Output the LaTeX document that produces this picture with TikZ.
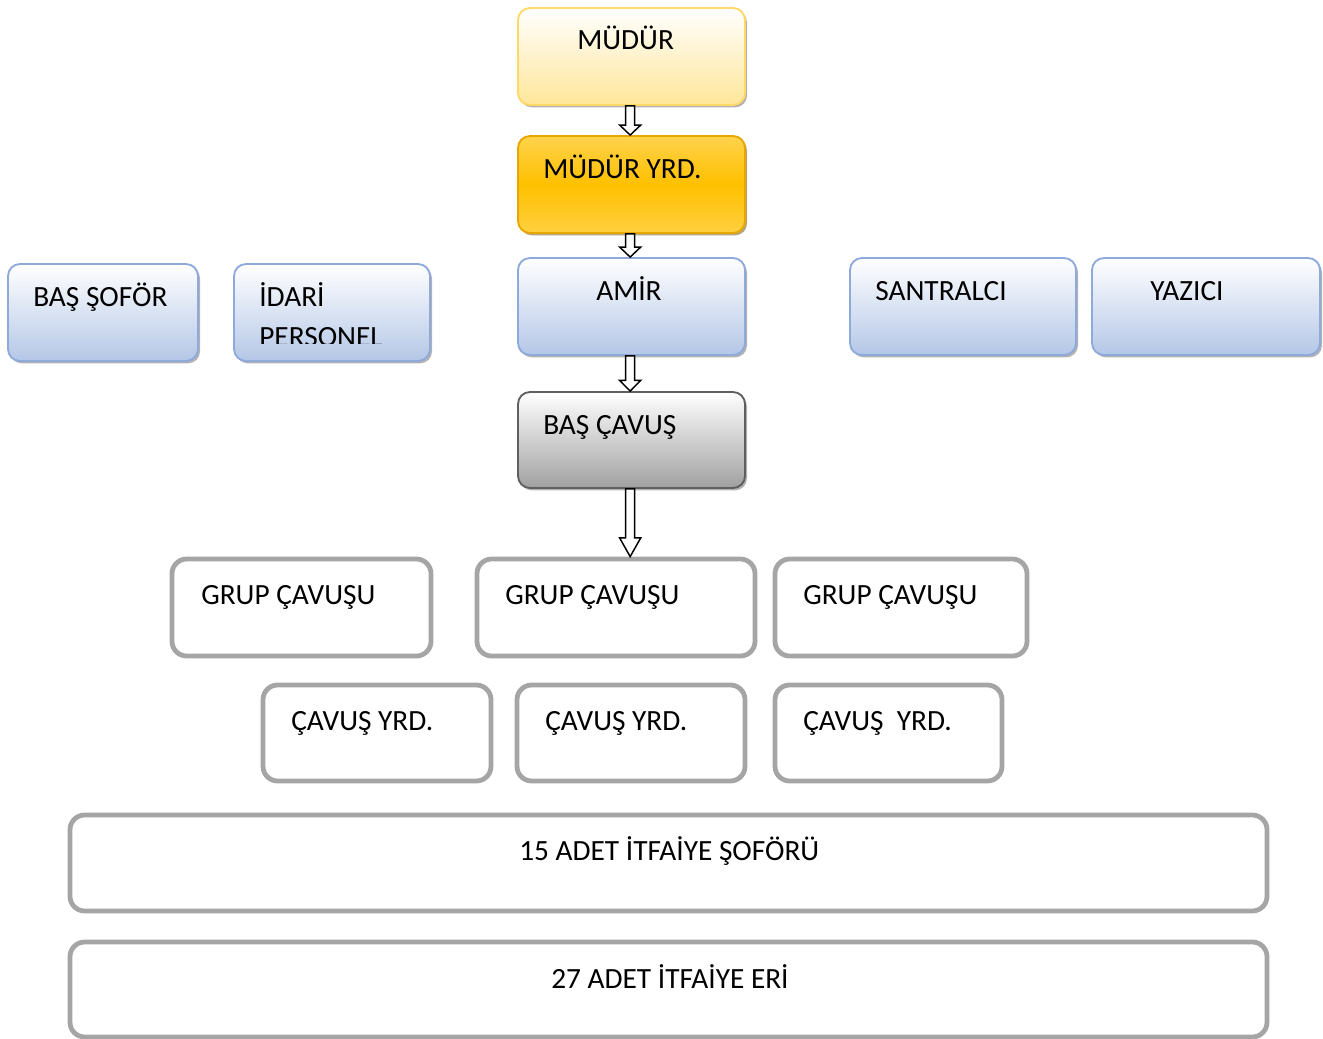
\documentclass[tikz,border=0pt]{standalone}
\usepackage{fontspec}
\setmainfont{Carlito}
\usepackage{tikz}
\usetikzlibrary{fit,calc,shadows}

\definecolor{mudurline}{RGB}{255,217,102}
\definecolor{mudurfill}{RGB}{255,230,153}
\definecolor{yrdline}{RGB}{232,166,0}
\definecolor{yrdfill}{RGB}{255,192,0}
\definecolor{amirline}{RGB}{142,170,219}
\definecolor{amirfill}{RGB}{180,199,231}
\definecolor{cavusline}{RGB}{95,95,95}
\definecolor{cavusfill}{RGB}{160,160,160}
\definecolor{boxgray}{RGB}{165,165,165}

% hollow block arrow from one box down to the next (#3 = head length)
\newcommand{\blockarrow}[3]{%
  \draw[fill=white,line width=1.1pt] let \p1=([xshift=-1pt]#1.south), \p2=(#2.north) in
    (\x1-3.4pt,\y1) -- (\x1-3.4pt,\y2+#3) -- (\x1-7.9pt,\y2+#3) -- (\x1,\y2)
    -- (\x1+7.9pt,\y2+#3) -- (\x1+3.4pt,\y2+#3) -- (\x1+3.4pt,\y1) -- cycle;}

\begin{document}
\begin{tikzpicture}[x=0.75pt,y=-0.75pt,
    shadowed/.style={drop shadow={shadow xshift=1.5pt,shadow yshift=-1.8pt,opacity=.5,fill=#1}},
    softbox/.style={inner sep=0pt,rounded corners=9pt,line width=1.4pt},
    yellowbox/.style={softbox,shadowed=black!60,draw=mudurline,top color=white,bottom color=mudurfill},
    goldbox/.style={softbox,shadowed=yrdline!45!black,draw=yrdline,top color=yrdfill!70!white,bottom color=yrdfill!75!white,middle color=yrdfill},
    bluebox/.style={softbox,shadowed=black!60,draw=amirline,top color=white,bottom color=amirfill},
    greybox/.style={softbox,shadowed=black!60,draw=cavusline,top color=white,bottom color=cavusfill},
    plainbox/.style={inner sep=0pt,rounded corners=11pt,line width=3.6pt,draw=boxgray,fill=white},
    lbl/.style={anchor=base west,inner sep=0pt,font=\fontsize{22}{26}\selectfont}]
  \useasboundingbox (0,0) rectangle (1323,1038);

  % chain of command
  \node[yellowbox,fit={(518,8) (745,105)}] (mudur) {};
  \node[goldbox,fit={(518,136) (745,233)}] (mudyrd) {};
  \node[bluebox,fit={(518,258) (745,355)}] (amir) {};
  \node[greybox,fit={(518,392) (745,488)}] (bascavus) {};
  \node[lbl] at (577,50) {MÜDÜR};
  \node[lbl] at (543,178) {MÜDÜR YRD.};
  \node[lbl] at (596,300) {AMİR};
  \node[lbl] at (543,434) {BAŞ ÇAVUŞ};

  % staff at the sides
  \node[bluebox,fit={(8,264) (198,361)}] (bassofor) {};
  \node[bluebox,fit={(234,264) (430,361)}] (idari) {};
  \node[bluebox,fit={(850,258) (1076,355)}] (santral) {};
  \node[bluebox,fit={(1092,258) (1320,355)}] (yazici) {};
  \node[lbl] at (33,306) {BAŞ ŞOFÖR};
  \node[lbl] at (259,306) {İDARİ};
  \begin{scope}
    \clip (240,320) rectangle (425,343);
    \node[lbl] at (259,346) {PERSONEL};
  \end{scope}
  \node[lbl] at (875,300) {SANTRALCI};
  \node[lbl] at (1150,300) {YAZICI};

  % groups
  \node[plainbox,fit={(172,559) (431,656)}] (grup1) {};
  \node[plainbox,fit={(477,559) (755,656)}] (grup2) {};
  \node[plainbox,fit={(775,559) (1027,656)}] (grup3) {};
  \node[lbl] at (201,604) {GRUP ÇAVUŞU};
  \node[lbl] at (505,604) {GRUP ÇAVUŞU};
  \node[lbl] at (803,604) {GRUP ÇAVUŞU};

  \node[plainbox,fit={(263,685) (491,781)}] (yrd1) {};
  \node[plainbox,fit={(517,685) (745,781)}] (yrd2) {};
  \node[plainbox,fit={(775,685) (1002,781)}] (yrd3) {};
  \node[lbl] at (291,730) {ÇAVUŞ YRD.};
  \node[lbl] at (545,730) {ÇAVUŞ YRD.};
  \node[lbl] at (803,730) {ÇAVUŞ~~YRD.};

  \node[plainbox,fit={(70,815) (1267,911)}] (sofor) {};
  \node[plainbox,fit={(70,942) (1267,1037)}] (eri) {};
  \node[lbl] at (519,860) {15 ADET İTFAİYE ŞOFÖRÜ};
  \node[lbl] at (551,988) {27 ADET İTFAİYE ERİ};

  \blockarrow{mudur}{mudyrd}{7.5pt}
  \blockarrow{mudyrd}{amir}{7.5pt}
  \blockarrow{amir}{bascavus}{8pt}
  \blockarrow{bascavus}{grup2}{14pt}
\end{tikzpicture}
\end{document}
